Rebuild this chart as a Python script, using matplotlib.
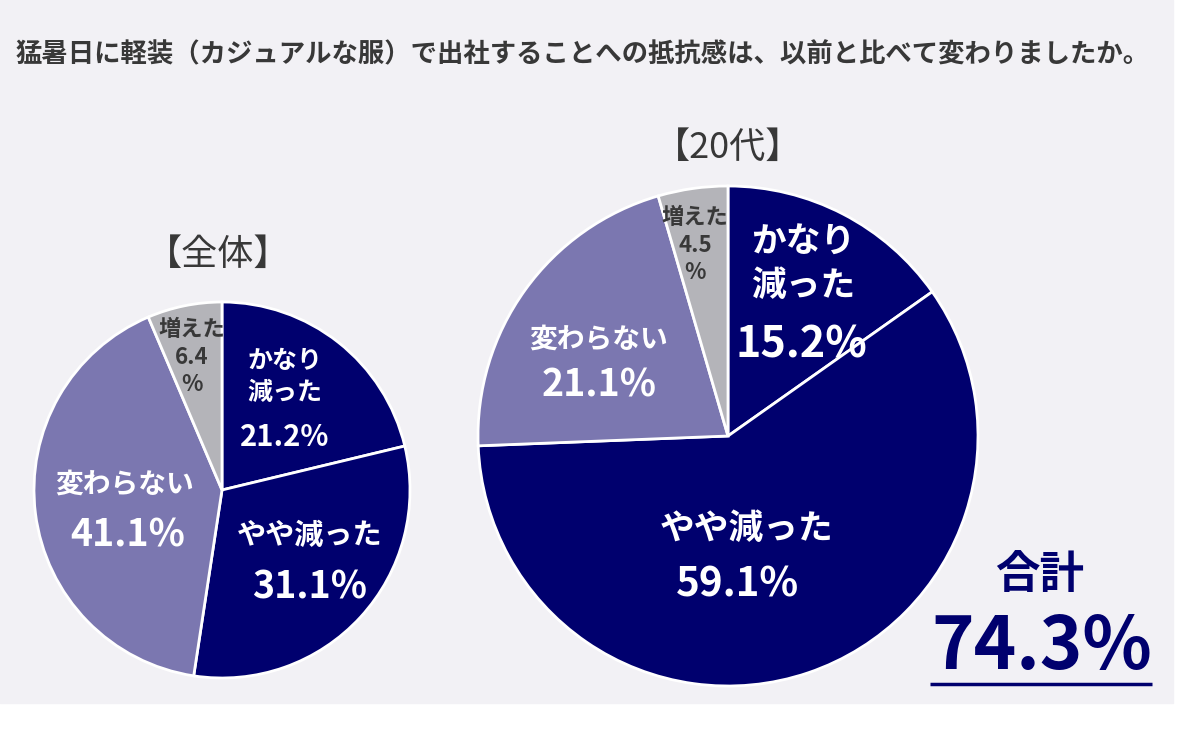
import numpy as np
import matplotlib.pyplot as plt
from matplotlib.patches import Rectangle

plt.rcParams['font.family'] = ['Noto Sans CJK JP', 'DejaVu Sans']

titre = '猛暑日に軽装（カジュアルな服）で出社することへの抵抗感は、以前と比べて変わりましたか。'
categories = ['かなり減った', 'やや減った', '変わらない', '増えた']
valeurs_total = [21.2, 31.1, 41.1, 6.4]
valeurs_20 = [15.2, 59.1, 21.1, 4.5]
total_20 = 74.3

navy = '#00006e'
couleurs = [navy, navy, '#7b77b0', '#b4b4b9']
fond = '#f2f1f5'
gris_texte = '#383838'

W, H = 1200, 740
fig = plt.figure(figsize=(12, 7.4), dpi=100)
ax = fig.add_axes([0, 0, 1, 1])


def py(y):
    # pixel from top -> data y
    return H - y


ax.add_patch(Rectangle((0, py(703)), 1173, 703, color=fond, zorder=0))

# pies
ax.pie(valeurs_total, colors=couleurs, startangle=90, counterclock=False,
       center=(222, py(490)), radius=188,
       wedgeprops=dict(edgecolor='white', linewidth=2), frame=True)
ax.pie(valeurs_20, colors=couleurs, startangle=90, counterclock=False,
       center=(728, py(436)), radius=250,
       wedgeprops=dict(edgecolor='white', linewidth=2), frame=True)

ax.set_xlim(0, W)
ax.set_ylim(0, H)
ax.set_aspect('auto')
ax.axis('off')

# title and subtitles
ax.text(583, py(55), titre, ha='center', va='center', fontsize=19,
        fontweight='bold', color=gris_texte)
ax.text(218, py(255), '【全体】', ha='center', va='center', fontsize=26, color=gris_texte)
ax.text(728, py(148), '【20代】', ha='center', va='center', fontsize=26, color=gris_texte)

# labels, left pie
ax.text(285, py(377), 'かなり\n減った', ha='center', va='center', fontsize=18,
        fontweight='bold', color='white', linespacing=1.45)
ax.text(285, py(437), f'{valeurs_total[0]}%', ha='center', va='center', fontsize=21,
        fontweight='bold', color='white')
ax.text(310, py(535), 'やや減った', ha='center', va='center', fontsize=21,
        fontweight='bold', color='white')
ax.text(310, py(587), f'{valeurs_total[1]}%', ha='center', va='center', fontsize=27,
        fontweight='bold', color='white')
ax.text(125, py(485), '変わらない', ha='center', va='center', fontsize=20,
        fontweight='bold', color='white')
ax.text(128, py(535), f'{valeurs_total[2]}%', ha='center', va='center', fontsize=27,
        fontweight='bold', color='white')
ax.text(192, py(357), f'増えた\n{valeurs_total[3]}\n%', ha='center', va='center', fontsize=16,
        fontweight='bold', color=gris_texte, linespacing=1.25)

# labels, right pie
ax.text(803, py(264), 'かなり\n減った', ha='center', va='center', fontsize=25,
        fontweight='bold', color='white', linespacing=1.3)
ax.text(801, py(345), f'{valeurs_20[0]}%', ha='center', va='center', fontsize=31,
        fontweight='bold', color='white')
ax.text(747, py(528), 'やや減った', ha='center', va='center', fontsize=25,
        fontweight='bold', color='white')
ax.text(737, py(585), f'{valeurs_20[1]}%', ha='center', va='center', fontsize=29,
        fontweight='bold', color='white')
ax.text(599, py(340), '変わらない', ha='center', va='center', fontsize=20,
        fontweight='bold', color='white')
ax.text(599, py(385), f'{valeurs_20[2]}%', ha='center', va='center', fontsize=27,
        fontweight='bold', color='white')
ax.text(695, py(245), f'増えた\n{valeurs_20[3]}\n%', ha='center', va='center', fontsize=16,
        fontweight='bold', color=gris_texte, linespacing=1.25)

# total
ax.text(1040, py(575), '合計', ha='center', va='center', fontsize=32,
        fontweight='bold', color=navy)
ax.text(1042, py(648), f'{total_20}%', ha='center', va='center', fontsize=52,
        fontweight='bold', color=navy)
ax.plot([930, 1152], [py(684), py(684)], color=navy, linewidth=2.5, solid_capstyle='butt')

fig.savefig('out.png', dpi=100, facecolor='white')
